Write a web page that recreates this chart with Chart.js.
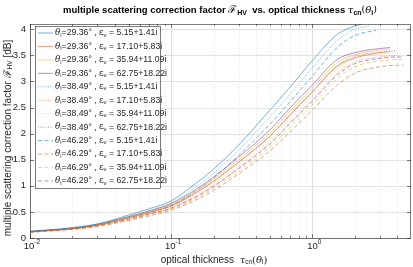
<!DOCTYPE html>
<html>
<head>
<meta charset="utf-8">
<script src="https://cdn.jsdelivr.net/npm/chart.js@4.4.1/dist/chart.umd.min.js"></script>
<style>
  html, body { margin: 0; padding: 0; background: #fff; }
</style>
</head>
<body>
<canvas id="chart" width="413" height="267"></canvas>
<script>
// --- data ---
const tauGrid = [0.01, 0.015, 0.02, 0.03, 0.05, 0.07, 0.1, 0.15, 0.2, 0.3, 0.5, 0.7, 1, 1.5, 2, 3, 4];

const thetaLabels = ['29.36', '38.49', '46.29'];
const epsLabels = ['5.15+1.41i', '17.10+5.83i', '35.94+11.09i', '62.75+18.22i'];

// last tau of each curve (per theta: eps 5.15 / others)
const tauEnd29 = [2.24, 3.56, 3.56, 3.56];
const tauEnd38 = [2.5, 3.97, 3.97, 3.97];
const tauEnd46 = [2.83, 4.42, 4.42, 4.42];

// values on tauGrid (below tauEnd), last entry = value at tauEnd
const f29_e1 = [0.13, 0.165, 0.20, 0.27, 0.44, 0.56, 0.71, 1.05, 1.32, 1.78, 2.45, 2.90, 3.40, 3.90, 4.06, 4.10];
const f29_e2 = [0.12, 0.15, 0.18, 0.245, 0.39, 0.49, 0.62, 0.87, 1.09, 1.45, 1.95, 2.37, 2.80, 3.29, 3.45, 3.55, 3.57];
const f29_e3 = [0.12, 0.155, 0.185, 0.25, 0.40, 0.505, 0.64, 0.90, 1.13, 1.50, 2.01, 2.44, 2.87, 3.36, 3.51, 3.60, 3.62];
const f29_e4 = [0.125, 0.16, 0.19, 0.26, 0.41, 0.52, 0.66, 0.93, 1.17, 1.55, 2.07, 2.50, 2.93, 3.42, 3.55, 3.63, 3.65];

const f38_e1 = [0.125, 0.16, 0.19, 0.26, 0.41, 0.52, 0.67, 0.98, 1.24, 1.68, 2.32, 2.76, 3.26, 3.78, 4.00, 4.06];
const f38_e2 = [0.115, 0.145, 0.17, 0.235, 0.36, 0.46, 0.575, 0.80, 1.00, 1.35, 1.83, 2.23, 2.66, 3.16, 3.37, 3.47, 3.50];
const f38_e3 = [0.115, 0.15, 0.175, 0.24, 0.37, 0.475, 0.59, 0.83, 1.04, 1.40, 1.89, 2.30, 2.74, 3.24, 3.44, 3.52, 3.55];
const f38_e4 = [0.12, 0.155, 0.18, 0.25, 0.38, 0.49, 0.61, 0.86, 1.08, 1.45, 1.95, 2.36, 2.80, 3.30, 3.48, 3.56, 3.59];

const f46_e1 = [0.12, 0.155, 0.18, 0.25, 0.39, 0.49, 0.62, 0.90, 1.15, 1.58, 2.18, 2.62, 3.10, 3.65, 3.88, 3.98];
const f46_e2 = [0.11, 0.14, 0.165, 0.22, 0.335, 0.425, 0.53, 0.73, 0.91, 1.23, 1.67, 2.04, 2.45, 2.93, 3.16, 3.28, 3.31, 3.31];
const f46_e3 = [0.11, 0.145, 0.17, 0.23, 0.35, 0.445, 0.55, 0.76, 0.95, 1.28, 1.74, 2.13, 2.55, 3.05, 3.28, 3.39, 3.42, 3.42];
const f46_e4 = [0.115, 0.15, 0.175, 0.24, 0.36, 0.46, 0.57, 0.79, 0.99, 1.33, 1.80, 2.20, 2.62, 3.12, 3.34, 3.44, 3.47, 3.47];

const xTickValues = [0.01, 0.1, 1];
const xTickExps = ['-2', '-1', '0'];
const yTickValues = [0, 0.5, 1, 1.5, 2, 2.5, 3, 3.5, 4];
const yTickLabels = ['0', '0.5', '1', '1.5', '2', '2.5', '3', '3.5', '4'];

// --- styles ---
const COLORS = ['#0072BD', '#D95319', '#EDB120', '#7E2F8E'];
const DASHES = [[], [1, 1.5], [4, 2.5]];
const AXIS_COLOR = '#262626';
const FONT = '"Liberation Sans", Arial, sans-serif';
const SERIF = '"DejaVu Serif", serif';

function toPoints(vals, end) {
    const pts = vals.slice(0, -1).map((y, i) => ({ x: tauGrid[i], y: y }));
    pts.push({ x: end, y: vals[vals.length - 1] });
    return pts;
}

const seriesByTheta = [
    [f29_e1, f29_e2, f29_e3, f29_e4],
    [f38_e1, f38_e2, f38_e3, f38_e4],
    [f46_e1, f46_e2, f46_e3, f46_e4]
];
const endsByTheta = [tauEnd29, tauEnd38, tauEnd46];

const datasets = [];
seriesByTheta.forEach((group, t) => {
    group.forEach((vals, e) => {
        datasets.push({
            label: thetaLabels[t] + '|' + epsLabels[e],
            theta: thetaLabels[t],
            eps: epsLabels[e],
            data: toPoints(vals, endsByTheta[t][e]),
            borderColor: COLORS[e],
            borderDash: DASHES[t],
            borderWidth: 0.55,
            pointRadius: 0,
            fill: false,
            cubicInterpolationMode: 'monotone'
        });
    });
});

// draw text made of pieces (subscripts etc)
function drawRich(ctx, parts, x, y, align) {
    let w = 0;
    parts.forEach(p => { ctx.font = p.font; p.w = ctx.measureText(p.t).width; w += p.w; });
    let cx = align === 'center' ? x - w / 2 : (align === 'right' ? x - w : x);
    ctx.textAlign = 'left';
    ctx.textBaseline = 'middle';
    parts.forEach(p => {
        ctx.font = p.font;
        ctx.fillText(p.t, cx, y + (p.dy || 0));
        cx += p.w;
    });
}

function minorTicks(min, max) {
    const out = [];
    for (let d = -2; d <= 0; d++) {
        for (let m = 2; m <= 9; m++) {
            const v = m * Math.pow(10, d);
            if (v > min && v < max) out.push(v);
        }
    }
    return out;
}

const matlabAxes = {
    id: 'matlabAxes',
    beforeDatasetsDraw(chart) {
        const { ctx, chartArea: a, scales: { x, y } } = chart;
        ctx.save();
        ctx.lineWidth = 1;
        // y grid
        ctx.strokeStyle = '#e3e3e3';
        yTickValues.forEach(v => {
            const py = Math.round(y.getPixelForValue(v)) + 0.5;
            ctx.beginPath(); ctx.moveTo(a.left, py); ctx.lineTo(a.right, py); ctx.stroke();
        });
        // x minor grid (dotted)
        ctx.strokeStyle = '#e6e6e6';
        ctx.setLineDash([1, 2]);
        minorTicks(x.min, x.max).forEach(v => {
            const px = Math.round(x.getPixelForValue(v)) + 0.5;
            ctx.beginPath(); ctx.moveTo(px, a.top); ctx.lineTo(px, a.bottom); ctx.stroke();
        });
        // x major grid
        ctx.setLineDash([]);
        ctx.strokeStyle = '#e0e0e0';
        xTickValues.forEach(v => {
            const px = Math.round(x.getPixelForValue(v)) + 0.5;
            ctx.beginPath(); ctx.moveTo(px, a.top); ctx.lineTo(px, a.bottom); ctx.stroke();
        });
        ctx.restore();
    },
    afterDatasetsDraw(chart) {
        const { ctx, chartArea: a, scales: { x, y } } = chart;
        ctx.save();
        ctx.strokeStyle = AXIS_COLOR;
        ctx.lineWidth = 0.6;
        ctx.strokeRect(Math.round(a.left) + 0.5, Math.round(a.top) + 0.5,
            Math.round(a.right - a.left) - 1, Math.round(a.bottom - a.top));
        // inward ticks
        ctx.beginPath();
        yTickValues.forEach(v => {
            const py = Math.round(y.getPixelForValue(v)) + 0.5;
            ctx.moveTo(a.left, py); ctx.lineTo(a.left + 4, py);
            ctx.moveTo(a.right, py); ctx.lineTo(a.right - 4, py);
        });
        xTickValues.forEach(v => {
            const px = Math.round(x.getPixelForValue(v)) + 0.5;
            ctx.moveTo(px, a.bottom); ctx.lineTo(px, a.bottom - 4);
            ctx.moveTo(px, a.top); ctx.lineTo(px, a.top + 4);
        });
        minorTicks(x.min, x.max).forEach(v => {
            const px = Math.round(x.getPixelForValue(v)) + 0.5;
            ctx.moveTo(px, a.bottom); ctx.lineTo(px, a.bottom - 2);
            ctx.moveTo(px, a.top); ctx.lineTo(px, a.top + 2);
        });
        ctx.stroke();

        // y tick labels
        ctx.fillStyle = AXIS_COLOR;
        ctx.font = '9.5px ' + FONT;
        ctx.textAlign = 'right';
        ctx.textBaseline = 'middle';
        yTickValues.forEach((v, i) => {
            ctx.fillText(yTickLabels[i], a.left - 4, y.getPixelForValue(v));
        });

        // x tick labels 10^n
        xTickValues.forEach((v, i) => {
            const px = x.getPixelForValue(v);
            drawRich(ctx, [
                { t: '10', font: '9.5px ' + FONT, dy: 0 },
                { t: xTickExps[i], font: '6.5px ' + FONT, dy: -4 }
            ], px + 2, a.bottom + 8, 'center');
        });

        // legend
        const lx = 35, ly = 26, lw = 125, lh = 162;
        ctx.fillStyle = '#fff';
        ctx.fillRect(lx, ly, lw, lh);
        ctx.strokeStyle = AXIS_COLOR;
        ctx.lineWidth = 0.6;
        ctx.strokeRect(lx + 0.5, ly + 0.5, lw, lh);
        chart.data.datasets.forEach((ds, i) => {
            const ry = 33 + i * 13.45;
            ctx.strokeStyle = ds.borderColor;
            ctx.lineWidth = 0.55;
            ctx.setLineDash(ds.borderDash);
            ctx.beginPath(); ctx.moveTo(38, ry); ctx.lineTo(53, ry); ctx.stroke();
            ctx.setLineDash([]);
            ctx.fillStyle = AXIS_COLOR;
            const f = '8.7px ' + FONT, s = '6px ' + FONT;
            drawRich(ctx, [
                { t: 'θ', font: 'italic 8.7px ' + SERIF },
                { t: 'i', font: s, dy: 2 },
                { t: '=' + ds.theta + '° , ', font: f },
                { t: 'ε', font: '8.7px ' + SERIF },
                { t: 'v', font: s, dy: 2 },
                { t: ' = ' + ds.eps, font: f }
            ], 55, ry, 'left');
        });

        // title
        ctx.fillStyle = '#000';
        const B = 'bold 9.5px ' + FONT, BS = 'bold 7px ' + FONT, I = 'italic 10px ' + SERIF;
        drawRich(ctx, [
            { t: 'multiple scattering correction factor ', font: B },
            { t: 'ℱ', font: '10.5px ' + SERIF, dy: 0 },
            { t: 'HV', font: BS, dy: 3 },
            { t: '  vs. optical thickness ', font: B },
            { t: 'τ', font: I },
            { t: 'cn', font: BS, dy: 3 },
            { t: '(', font: '9.5px ' + SERIF },
            { t: 'θ', font: I },
            { t: 'i', font: BS, dy: 3 },
            { t: ')', font: '9.5px ' + SERIF }
        ], 220, 10, 'center');

        // x label
        ctx.fillStyle = AXIS_COLOR;
        const R = '10px ' + FONT, RS = '6.5px ' + FONT;
        drawRich(ctx, [
            { t: 'optical thickness  ', font: R },
            { t: 'τ', font: 'italic 10px ' + SERIF },
            { t: 'cn', font: RS, dy: 2.5 },
            { t: '(', font: '10px ' + SERIF },
            { t: 'θ', font: 'italic 10px ' + SERIF },
            { t: 'i', font: RS, dy: 2.5 },
            { t: ')', font: '10px ' + SERIF }
        ], 214, 260, 'center');

        // y label
        ctx.translate(8, (a.top + a.bottom) / 2 + 7);
        ctx.rotate(-Math.PI / 2);
        drawRich(ctx, [
            { t: 'multiple scattering correction factor ', font: R },
            { t: 'ℱ', font: '10.5px ' + SERIF },
            { t: 'HV', font: RS, dy: 2.5 },
            { t: ' [dB]', font: R }
        ], 0, 0, 'center');
        ctx.restore();
    }
};

new Chart(document.getElementById('chart'), {
    type: 'line',
    data: { datasets: datasets },
    options: {
        responsive: false,
        animation: false,
        layout: { padding: { top: 24, right: 2, left: 30, bottom: 29 } },
        plugins: {
            legend: { display: false },
            title: { display: false },
            tooltip: { enabled: false }
        },
        scales: {
            x: {
                type: 'logarithmic',
                min: 0.01,
                max: 5,
                display: false
            },
            y: {
                min: 0,
                max: 4.1,
                display: false
            }
        }
    },
    plugins: [matlabAxes]
});
</script>
</body>
</html>
